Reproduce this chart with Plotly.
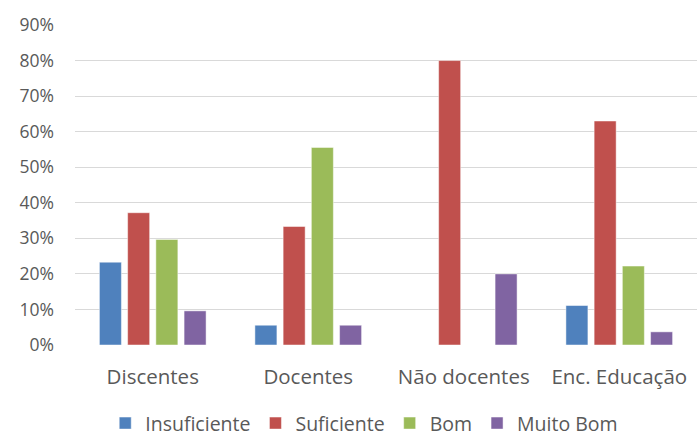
import plotly.graph_objects as go

categories = ["Discentes", "Docentes", "Não docentes", "Enc. Educação"]
series_names = ["Insuficiente", "Suficiente", "Bom", "Muito Bom"]
insuficiente = [23.3, 5.56, 0, 11.1]
suficiente = [37.2, 33.33, 80.0, 63.0]
bom = [29.7, 55.56, 0, 22.2]
muito_bom = [9.6, 5.56, 20.0, 3.7]
colors = ["#4F81BD", "#C0504D", "#9BBB59", "#8064A2"]
y_ticks = [0, 10, 20, 30, 40, 50, 60, 70, 80, 90]
y_tick_labels = [f"{v}%" for v in y_ticks]

font_family = "Open Sans, Noto Sans, sans-serif"
text_color = "#595959"

fig = go.Figure()
for name, vals, col in zip(series_names, [insuficiente, suficiente, bom, muito_bom], colors):
    fig.add_trace(go.Bar(
        x=categories, y=vals, name=name,
        marker=dict(color=col, line=dict(color="rgba(255,255,255,0.6)", width=0.8)),
    ))

fig.update_layout(
    width=697, height=437,
    margin=dict(l=75, r=0, t=25, b=92, autoexpand=False),
    paper_bgcolor="white", plot_bgcolor="white",
    barmode="group", bargap=0.274, bargroupgap=0.22,
    font=dict(family=font_family, size=19, color=text_color),
    showlegend=True,
    legend=dict(orientation="h", x=0.465, xanchor="center", y=-0.245, yanchor="middle",
                font=dict(size=19.5, color=text_color), itemwidth=30,
                traceorder="normal", tracegroupgap=0),
)
fig.update_yaxes(range=[0, 90], tickvals=y_ticks, ticktext=y_tick_labels,
                 showgrid=True, gridcolor="#D9D9D9", gridwidth=1.3,
                 zeroline=False, showline=False, ticks="", ticklabelstandoff=20,
                 tickfont=dict(size=17.5, color=text_color))
fig.update_xaxes(showgrid=False, showline=False, ticks="", ticklabelstandoff=17,
                 tickfont=dict(size=20.5, color=text_color))

fig.write_html("out.html")
